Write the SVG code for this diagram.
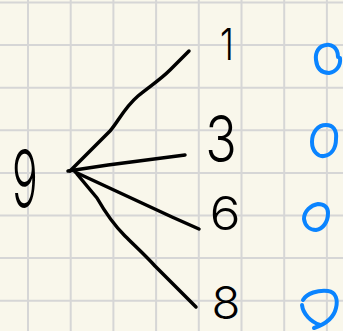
<svg xmlns="http://www.w3.org/2000/svg" width="343" height="331" viewBox="0 0 343 331">
  <style>
    .grid { stroke: #d6d6d6; stroke-width: 2; fill: none; }
    .ink { stroke: #000; stroke-width: 3.5; fill: none; stroke-linecap: round; stroke-linejoin: round; }
    .digit { font-family: Inter, "Liberation Sans", sans-serif; font-weight: 300; fill: #000; text-anchor: middle; }
    .mark { stroke: #0a84ff; stroke-width: 4; fill: none; stroke-linecap: round; stroke-linejoin: round; }
  </style>
  <rect width="343" height="331" fill="#f9f7eb"/>
  <g id="grid" class="grid">
    <path d="M28,0V331 M70.7,0V331 M113.4,0V331 M156.1,0V331 M198.8,0V331 M241.5,0V331 M284.2,0V331 M326.9,0V331"/>
    <path d="M0,2.5H343 M0,45.1H343 M0,87.7H343 M0,130.3H343 M0,172.9H343 M0,215.5H343 M0,258.1H343 M0,300.7H343"/>
  </g>
  <g id="connectors" class="ink">
    <path d="M70,171 L110,131 C118,122 124,108 138,96 C150,86 160,80 170,70 L189,51"/>
    <path d="M68,171 L108,165 L185,155"/>
    <path d="M75,172 L172,217 L199,229"/>
    <path d="M77,174 L97,198 C105,212 115,226 125,236 C135,246 145,255 155,266 L196,307"/>
  </g>
  <g id="node-9"><text class="digit" font-size="78" transform="translate(25,207) scale(0.55,1)">9</text></g>
  <g id="node-1"><text class="digit" font-size="44" transform="translate(227,60) scale(0.8,1)">1</text></g>
  <g id="node-3"><text class="digit" font-size="65" transform="translate(221,162) scale(0.8,1)">3</text></g>
  <g id="node-6"><text class="digit" font-size="47" transform="translate(225,230) scale(1.1,1)">6</text></g>
  <g id="node-8"><text class="digit" font-size="45" transform="translate(226,319) scale(1.05,1)">8</text></g>
  <g id="marks" class="mark">
    <path d="M338,57 C338,47 331,44 326,45 C319,46 315,52 316,60 C317,69 322,73 329,73 C336,72 341,66 340,58"/>
    <path d="M336,139 C337,130 333,125 326,125 C318,125 312,132 312,142 C312,151 318,157 324,156 C331,155 336,149 336,139"/>
    <path d="M328,213 C328,207 324,204 318,204 C311,205 304,211 304,219 C305,226 310,230 316,230 C323,229 328,222 328,213"/>
    <path d="M303,300 C307,293 318,290 328,291 C336,292 338,300 336,308 C334,317 326,324 314,328 M320,325 C311,322 303,314 302,305"/>
  </g>
</svg>
